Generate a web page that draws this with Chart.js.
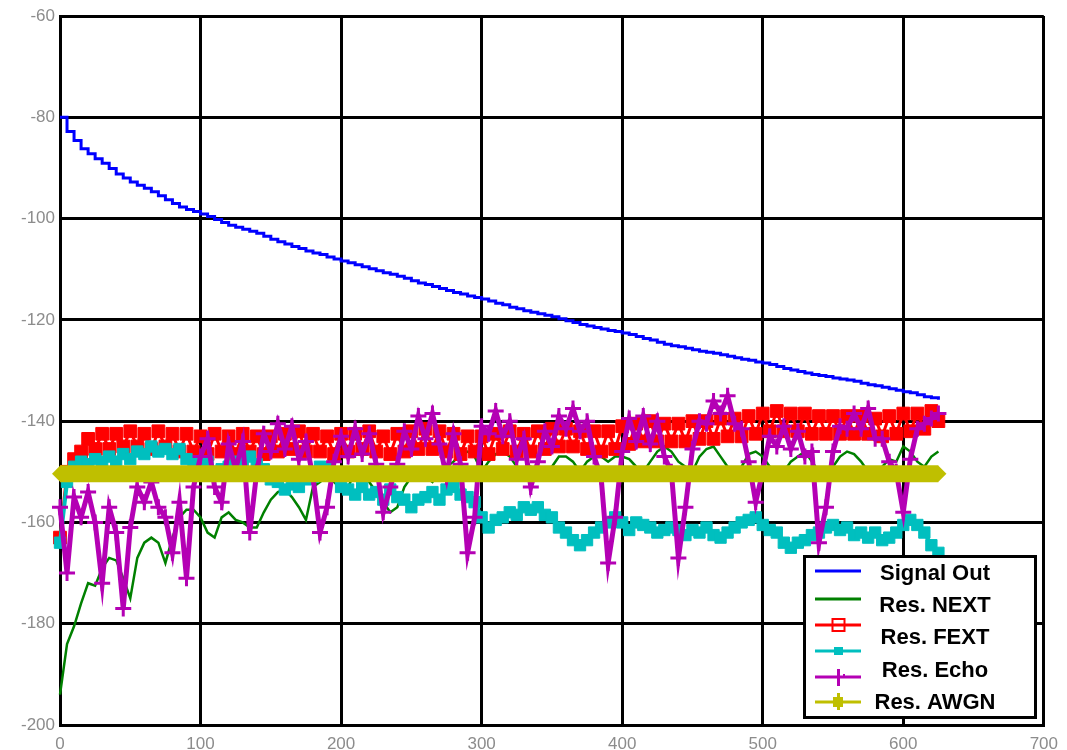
<!DOCTYPE html>
<html>
<head>
<meta charset="utf-8">
<script src="https://cdn.jsdelivr.net/npm/chart.js@4/dist/chart.umd.min.js"></script>
<style>
  html, body { margin: 0; padding: 0; background: #ffffff; }
  #wrap { width: 1067px; height: 750px; position: relative; }
</style>
</head>
<body>
<div id="wrap"><canvas id="plot"></canvas></div>
<script>
// Frequency bins (x axis)
const freq = [
  0, 5, 10, 15, 20, 25, 30, 35, 40, 45, 50, 55, 60, 65, 70, 75, 80, 85, 90, 95,
  100, 105, 110, 115, 120, 125, 130, 135, 140, 145, 150, 155, 160, 165, 170, 175, 180, 185, 190, 195,
  200, 205, 210, 215, 220, 225, 230, 235, 240, 245, 250, 255, 260, 265, 270, 275, 280, 285, 290, 295,
  300, 305, 310, 315, 320, 325, 330, 335, 340, 345, 350, 355, 360, 365, 370, 375, 380, 385, 390, 395,
  400, 405, 410, 415, 420, 425, 430, 435, 440, 445, 450, 455, 460, 465, 470, 475, 480, 485, 490, 495,
  500, 505, 510, 515, 520, 525, 530, 535, 540, 545, 550, 555, 560, 565, 570, 575, 580, 585, 590, 595,
  600, 605, 610, 615, 620, 625
];

const signalOut = [
  -80, -82.8, -84.6, -86.2, -87.2, -88.2, -89.1, -90.1, -91.2, -92.0, -92.8, -93.4, -94.0, -94.7, -95.5, -96.3, -97.0, -97.7, -98.2, -98.6,
  -99.1, -99.6, -100.2, -100.8, -101.3, -101.7, -102.1, -102.5, -102.9, -103.5, -104.1, -104.6, -105.0, -105.5, -105.9, -106.4, -106.8, -107.1, -107.6, -108.0,
  -108.4, -108.7, -109.1, -109.5, -109.9, -110.3, -110.7, -111.0, -111.4, -111.8, -112.3, -112.7, -113.0, -113.4, -113.8, -114.2, -114.6, -114.9, -115.3, -115.6,
  -115.9, -116.3, -116.7, -117.0, -117.5, -117.8, -118.2, -118.5, -118.8, -119.1, -119.4, -119.8, -120.2, -120.5, -120.9, -121.2, -121.5, -121.8, -122.1, -122.3,
  -122.6, -122.9, -123.3, -123.7, -124.0, -124.4, -124.8, -125.1, -125.3, -125.6, -125.9, -126.2, -126.4, -126.6, -126.9, -127.2, -127.5, -127.8, -128.0, -128.3,
  -128.5, -128.8, -129.2, -129.6, -129.9, -130.2, -130.5, -130.8, -131.0, -131.2, -131.5, -131.7, -131.9, -132.1, -132.5, -132.8, -133.0, -133.3, -133.6, -133.9,
  -134.2, -134.4, -134.8, -135.2, -135.4, -135.8
];

const resNext = [
  -194, -184, -180.5, -176, -172, -172.5, -169, -167, -167.5, -171, -175, -167, -164, -163, -164, -168, -163, -159, -157.5, -157.5,
  -159, -162, -163, -159, -158, -159.5, -160, -161, -161, -158, -155.5, -154, -153.5, -155, -157, -159.5, -153, -152, -151, -152,
  -153.5, -153, -150, -150, -152, -154, -156, -158, -157, -153, -151, -150, -151, -152, -150, -149, -148, -146.5, -146, -147,
  -150, -148, -146.5, -146, -147, -149, -150, -149, -150, -151, -149, -147, -147, -148, -150, -148, -147, -147, -148, -147,
  -147, -147.5, -149, -150, -148, -146, -145, -146, -148, -149, -150, -147, -145.5, -145, -147, -149, -151, -149, -146.5, -146,
  -147, -149, -151, -150, -148, -147, -146, -148, -150, -151, -149, -147, -146, -146.5, -148, -150, -151, -149, -147.5, -148,
  -145, -146, -148, -149, -147, -146
];

const resFext = [
  -163, -150, -147.5, -146, -143.5, -145.5, -142.5, -145.5, -142.5, -145, -142, -145, -142.5, -145.5, -142, -145, -142.5, -146, -142.5, -146,
  -143, -146.5, -142.5, -146, -143, -146.5, -142.5, -146, -143, -146.5, -143, -146, -142.5, -145.5, -142, -146, -142.5, -146, -143, -146.5,
  -142.5, -146, -142.5, -145.5, -142, -146, -143, -146.5, -142.5, -146, -142, -145.5, -141.5, -145.5, -142, -146, -142.5, -146.5, -143, -146,
  -143, -146.5, -142.5, -145.5, -142, -146, -142.5, -146, -142, -145.5, -141.5, -145, -141.5, -145, -142, -145.5, -142, -146, -142, -145.5,
  -141, -144.5, -140.5, -144, -140, -144, -140.5, -144, -140.5, -144, -140, -143.5, -140, -143.5, -139.5, -143, -139.5, -143, -139, -142.5,
  -138.5, -142, -138, -142, -138.5, -142, -138.5, -142.5, -139, -142.5, -139, -142.5, -139, -142.5, -139, -142.5, -139.5, -143, -139, -142.5,
  -138.5, -142, -138.5, -141.5, -138, -140
];

const resXt = [
  -164, -152, -149, -148, -148.5, -147.5, -148, -147, -148, -146.5, -147.5, -146, -146.5, -145, -146, -145.5, -146.5, -145.5, -147.5, -148,
  -148.5, -148, -150, -149.5, -149, -148, -148, -147, -148.5, -149.5, -151.5, -152, -153.5, -152.5, -153, -151.5, -151, -149, -149.5, -150.5,
  -153, -153.5, -154.5, -153, -154.5, -154, -155.5, -153.5, -155, -155.5, -157, -155.5, -155, -154, -155.5, -153.5, -153, -154.5, -155, -156,
  -159, -161, -159.5, -159, -158, -158.5, -157, -157.5, -157, -158.5, -159, -161, -162, -163.5, -164.5, -163.5, -162, -161, -160, -159,
  -160, -161.5, -160, -160.5, -161, -162, -161.5, -161, -161.5, -162.5, -161.5, -162, -161, -162.5, -163, -162, -161, -160, -159.5, -159,
  -160.5, -161.5, -162, -164, -165, -164, -163.5, -162.5, -162, -161, -160.5, -161.5, -161, -162.5, -162, -163, -162, -163.5, -163, -162,
  -160.5, -159.5, -160.5, -162, -164.5, -166
];

const resEcho = [
  -157, -170, -155, -159, -154, -160, -172, -157, -162, -177, -161, -153, -156, -152, -157, -159, -166, -156, -171, -153,
  -147, -143.5, -153, -156, -144.5, -149.5, -144, -162, -150, -142.5, -146, -140.5, -145.5, -141, -147.5, -144, -151, -162, -157, -148,
  -143, -147, -141.5, -146.5, -142.5, -148.5, -158, -153, -148.5, -142, -145.5, -139, -143.5, -138.5, -144.5, -151, -142.5, -148.5, -166, -159,
  -141, -142.5, -138, -143, -140, -147.5, -143.5, -153, -148, -142, -145, -139, -141.5, -137.5, -142, -140, -147, -151, -168, -159,
  -146, -139.5, -144, -139, -144.5, -140, -147, -150, -167, -157, -145.5, -140, -140.5, -136, -138.5, -135, -140.5, -141.5, -148, -156,
  -150, -143, -145, -141, -145.5, -142, -147, -146, -164, -157, -146, -141, -141.5, -138.5, -141.5, -137.5, -143.5, -143.5, -148, -150,
  -158, -147.5, -141.5, -140.5, -139.5, -138.5
];

// Noise floor level, flat across the band
const awgnFreq = [0, 125, 250, 375, 500, 625];
const resAwgn = [-150.4, -150.4, -150.4, -150.4, -150.4, -150.4];

const xTicks = [0, 100, 200, 300, 400, 500, 600, 700];
const yTicks = [-200, -180, -160, -140, -120, -100, -80, -60];

const pts = (xs, ys) => xs.map((x, i) => ({ x: x, y: ys[i] }));

// Legend drawn inside the plot, lower right
const legendBox = {
  id: 'legendBox',
  afterDraw(chart) {
    const ctx = chart.ctx;
    const sets = chart.data.datasets;
    const lineRows = [571, 599, 625, 651, 677, 702];
    ctx.save();
    ctx.fillStyle = '#ffffff';
    ctx.fillRect(804, 556, 231, 161);
    ctx.lineWidth = 3;
    ctx.strokeStyle = '#000000';
    ctx.strokeRect(804.5, 556.5, 231, 161);

    sets.forEach((ds, i) => {
      const y = lineRows[i];
      ctx.strokeStyle = ds.borderColor;
      ctx.fillStyle = ds.borderColor;
      ctx.lineWidth = 3;
      ctx.beginPath();
      ctx.moveTo(815, y);
      ctx.lineTo(861, y);
      ctx.stroke();
      const m = ds.legendMarker;
      if (m === 'hollow') {
        ctx.lineWidth = 2;
        ctx.strokeRect(832.5, y - 6, 12, 12);
      } else if (m === 'filled') {
        ctx.fillRect(834, y - 4, 9, 8);
      } else if (m === 'cross') {
        ctx.fillRect(837, y - 8, 3, 17);
        ctx.fillRect(843, y - 3, 2, 3);
      } else if (m === 'block') {
        ctx.fillRect(833, y - 5, 10, 10);
        ctx.fillRect(837, y - 9, 3, 17);
      }
    });

    const names = sets.filter(d => d.label).map(d => d.label);
    ctx.fillStyle = '#000000';
    ctx.font = 'bold 22px "Liberation Sans", Arial, sans-serif';
    ctx.textAlign = 'center';
    ctx.textBaseline = 'alphabetic';
    names.forEach((name, i) => {
      ctx.fillText(name, 935, 579.5 + i * 32.4);
    });
    ctx.restore();
  }
};

Chart.defaults.font.family = '"Liberation Sans", Arial, sans-serif';

new Chart(document.getElementById('plot'), {
  type: 'line',
  data: {
    datasets: [
      {
        label: 'Signal Out', data: pts(freq, signalOut),
        borderColor: '#0000ff', borderWidth: 3, pointRadius: 0, stepped: true,
        legendMarker: 'none', order: 6
      },
      {
        label: 'Res. NEXT', data: pts(freq, resNext),
        borderColor: '#008000', borderWidth: 2.5, pointRadius: 0,
        legendMarker: 'none', order: 5, clip: false
      },
      {
        label: 'Res. FEXT', data: pts(freq, resFext),
        borderColor: '#ff0000', borderWidth: 3,
        pointStyle: 'rect', pointRadius: 9, pointBorderWidth: 1,
        pointBorderColor: '#ff0000', pointBackgroundColor: '#ff0000',
        legendMarker: 'hollow', order: 4, clip: false
      },
      {
        label: '', data: pts(freq, resXt),
        borderColor: '#00bfbf', borderWidth: 4,
        pointStyle: 'rect', pointRadius: 8, pointBorderWidth: 1,
        pointBorderColor: '#00bfbf', pointBackgroundColor: '#00bfbf',
        legendMarker: 'filled', order: 3, clip: false
      },
      {
        label: 'Res. Echo', data: pts(freq, resEcho),
        borderColor: '#b400b4', borderWidth: 5,
        pointStyle: 'cross', pointRadius: 8, pointBorderWidth: 3,
        pointBorderColor: '#b400b4', pointBackgroundColor: '#b400b4',
        legendMarker: 'cross', order: 2, clip: false
      },
      {
        label: 'Res. AWGN', data: pts(awgnFreq, resAwgn),
        borderColor: '#bfbf00', borderWidth: 17, borderCapStyle: 'butt',
        pointStyle: 'rectRot',
        pointRadius: (c) => (c.dataIndex === 0 || c.dataIndex === awgnFreq.length - 1) ? 8 : 0,
        pointBorderWidth: 0, pointBackgroundColor: '#bfbf00',
        legendMarker: 'block', order: 1, clip: false
      }
    ]
  },
  options: {
    responsive: true,
    maintainAspectRatio: false,
    animation: false,
    events: [],
    layout: { padding: { top: 16, right: 20, left: 0, bottom: 0 } },
    plugins: { legend: { display: false }, tooltip: { enabled: false } },
    scales: {
      x: {
        type: 'linear', min: 0, max: 700,
        afterBuildTicks: (s) => { s.ticks = xTicks.map(v => ({ value: v })); },
        afterFit: (s) => { s.height = 25; },
        grid: { color: '#000000', lineWidth: 3, drawTicks: false },
        border: { color: '#000000', width: 3 },
        ticks: { color: '#8c8c8c', padding: 9, font: { size: 17 } }
      },
      y: {
        type: 'linear', min: -200, max: -60,
        afterBuildTicks: (s) => { s.ticks = yTicks.map(v => ({ value: v })); },
        afterFit: (s) => { s.width = 60; },
        grid: { color: '#000000', lineWidth: 3, drawTicks: false },
        border: { color: '#000000', width: 3 },
        ticks: { color: '#8c8c8c', padding: 5, font: { size: 17 } }
      }
    }
  },
  plugins: [legendBox]
});
</script>
</body>
</html>
